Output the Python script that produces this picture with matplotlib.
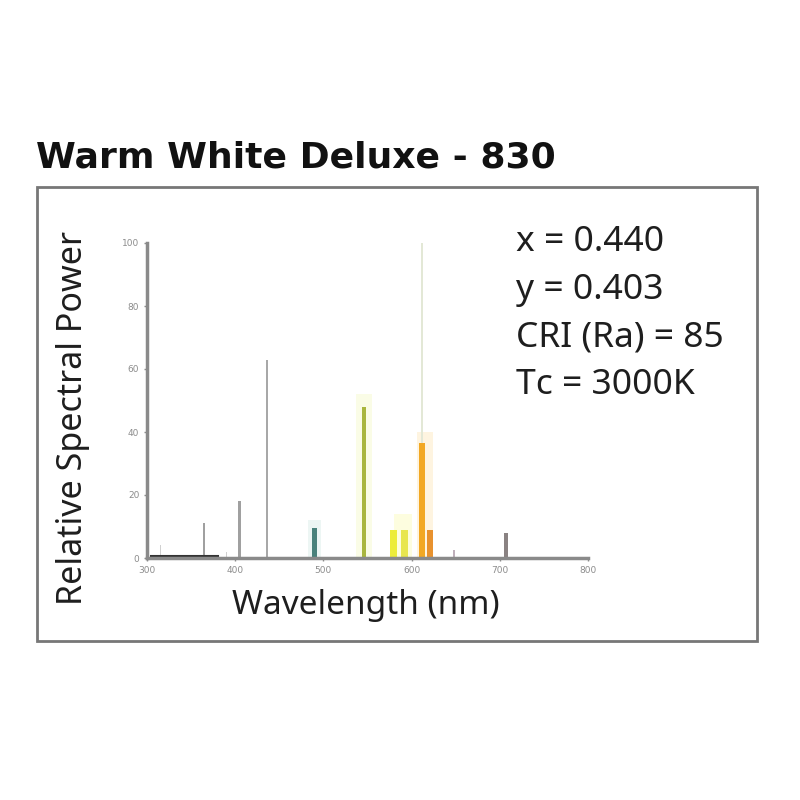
import matplotlib.pyplot as plt
from matplotlib.patches import Rectangle

# spectrum lines (nm, relative power)
wavelengths = [315, 365, 390, 405, 436, 490, 546, 580, 592, 612, 612, 621, 648, 707]
powers = [4, 11, 2, 18, 63, 9.5, 48, 9, 9, 100, 36.5, 9, 2.5, 8]
widths = [1.5, 2, 1.5, 3, 3, 5, 5, 8, 8, 2, 7, 7, 3, 4]
colors = ['#d0d0d0', '#a0a0a0', '#d0d0d0', '#a0a0a0', '#a8a8a8', '#4a827c',
          '#a9b63e', '#ecec3a', '#e8e650', '#e3e8d6', '#f2a824', '#e8922e',
          '#bfb0bb', '#8a8282']

# faint glow around the coloured peaks
halo_wl = [490, 546, 590, 615]
halo_pw = [12, 52, 14, 40]
halo_w = [14, 18, 20, 18]
halo_c = ['#d8ece8', '#f6f9c8', '#fcfcb8', '#fde8bc']

xticks = [300, 400, 500, 600, 700, 800]
yticks = [0, 20, 40, 60, 80, 100]

stats = ['x = 0.440', 'y = 0.403', 'CRI (Ra) = 85', 'Tc = 3000K']

fig = plt.figure(figsize=(8, 8), dpi=100)
W, H = 800, 800

def fx(px):
    return px / W

def fy(py):
    return 1 - py / H

# outer frame
fig.patches.append(Rectangle((fx(37), fy(641)), fx(757) - fx(37), fy(187) - fy(641),
                             transform=fig.transFigure, fill=False,
                             edgecolor='#777777', linewidth=2))

fig.text(fx(36), fy(157), 'Warm White Deluxe - 830', fontsize=26, fontweight='bold',
         family='DejaVu Sans', va='center', ha='left', color='#111111')

ax = fig.add_axes([fx(147), fy(558), fx(588) - fx(147), fy(243) - fy(558)])
ax.bar(halo_wl, halo_pw, width=halo_w, color=halo_c, alpha=0.45, linewidth=0)
ax.bar(wavelengths, powers, width=widths, color=colors, linewidth=0)
ax.plot([305, 380], [0.6, 0.6], color='#333333', linewidth=1.5)

ax.set_xlim(300, 800)
ax.set_ylim(0, 100)
for s in ['top', 'right']:
    ax.spines[s].set_visible(False)
for s in ['left', 'bottom']:
    ax.spines[s].set_color('#8a8a8a')
    ax.spines[s].set_linewidth(2.5)
ax.set_xticks(xticks)
ax.set_yticks(yticks)
ax.tick_params(colors='#8c8c8c', labelsize=6.5, length=2, width=1)
ax.patch.set_alpha(0)

fig.text(fx(73), fy(418), 'Relative Spectral Power', rotation=90, fontsize=24.5,
         family='Noto Sans', va='center', ha='center', color='#1e1e1e')
fig.text(fx(366), fy(606), 'Wavelength (nm)', fontsize=24,
         family='Noto Sans', va='center', ha='center', color='#1e1e1e')

for i, line in enumerate(stats):
    fig.text(fx(516), fy(242 + i * 47.7), line, fontsize=25.5, family='Noto Sans',
             va='center', ha='left', color='#1e1e1e')

fig.savefig('out.png', dpi=100)
